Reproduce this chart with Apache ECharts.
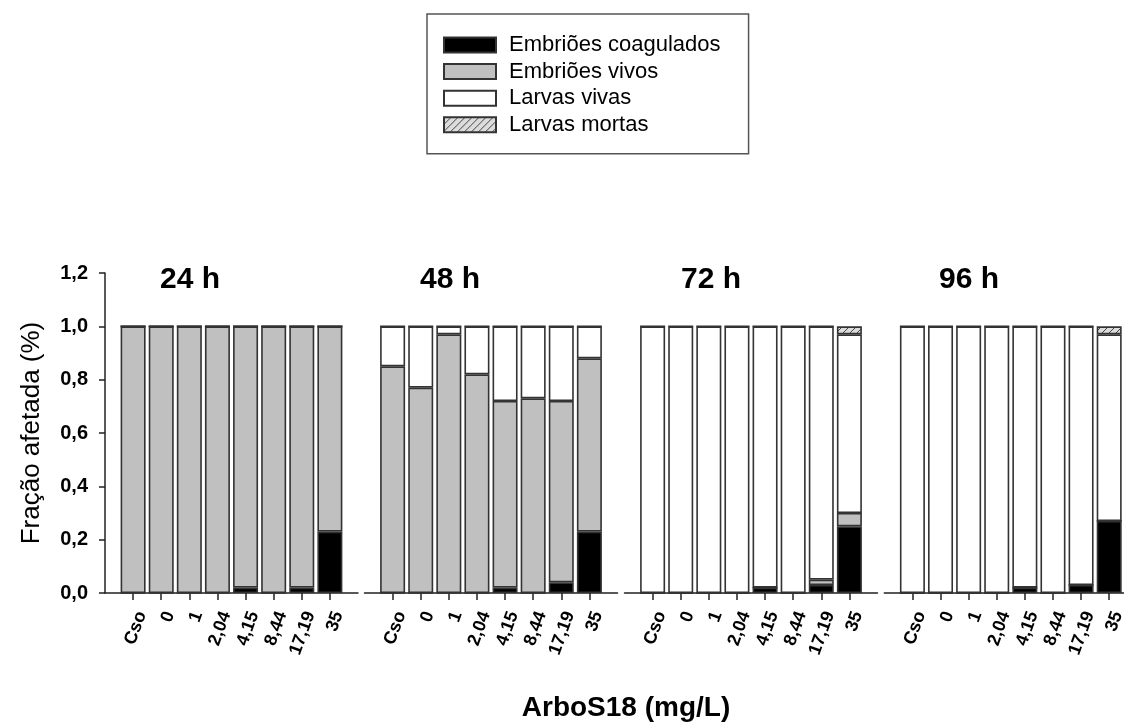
<!DOCTYPE html>
<html>
<head>
<meta charset="utf-8">
<script src="https://cdn.jsdelivr.net/npm/echarts@6/dist/echarts.min.js"></script>
<style>
html, body { margin: 0; background: #fff; }
#chart { width: 1124px; height: 724px; }
</style>
</head>
<body>
<div id="chart"></div>
<script>
// doses (mg/L)
var categories = ['Cso', '0', '1', '2,04', '4,15', '8,44', '17,19', '35'];
var panelTitles = ['24 h', '48 h', '72 h', '96 h'];
var seriesNames = ['Embriões coagulados', 'Embriões vivos', 'Larvas vivas', 'Larvas mortas'];

// 24 h
var coag24   = [0, 0, 0, 0, 0.02, 0, 0.02, 0.23];
var vivos24  = [1, 1, 1, 1, 0.98, 1, 0.98, 0.77];
var lvivas24 = [0, 0, 0, 0, 0, 0, 0, 0];
var lmort24  = [0, 0, 0, 0, 0, 0, 0, 0];
// 48 h
var coag48   = [0, 0, 0, 0, 0.02, 0, 0.04, 0.23];
var vivos48  = [0.85, 0.77, 0.97, 0.82, 0.70, 0.73, 0.68, 0.65];
var lvivas48 = [0.15, 0.23, 0.03, 0.18, 0.28, 0.27, 0.28, 0.12];
var lmort48  = [0, 0, 0, 0, 0, 0, 0, 0];
// 72 h
var coag72   = [0, 0, 0, 0, 0.02, 0, 0.03, 0.25];
var vivos72  = [0, 0, 0, 0, 0, 0, 0.02, 0.05];
var lvivas72 = [1, 1, 1, 1, 0.98, 1, 0.95, 0.67];
var lmort72  = [0, 0, 0, 0, 0, 0, 0, 0.03];
// 96 h
var coag96   = [0, 0, 0, 0, 0.02, 0, 0.03, 0.27];
var vivos96  = [0, 0, 0, 0, 0, 0, 0, 0];
var lvivas96 = [1, 1, 1, 1, 0.98, 1, 0.97, 0.70];
var lmort96  = [0, 0, 0, 0, 0, 0, 0, 0.03];

var panels = [
    [coag24, vivos24, lvivas24, lmort24],
    [coag48, vivos48, lvivas48, lmort48],
    [coag72, vivos72, lvivas72, lmort72],
    [coag96, vivos96, lvivas96, lmort96]
];

// hatch pattern for "Larvas mortas"
var hatch = document.createElement('canvas');
hatch.width = 7; hatch.height = 7;
var hc = hatch.getContext('2d');
hc.fillStyle = '#dcdcdc';
hc.fillRect(0, 0, 7, 7);
hc.strokeStyle = '#444';
hc.lineWidth = 1;
hc.beginPath();
hc.moveTo(-1, 8); hc.lineTo(8, -1);
hc.moveTo(-1, 1); hc.lineTo(1, -1);
hc.moveTo(6, 8); hc.lineTo(8, 6);
hc.stroke();

var fills = ['#000000', '#c0c0c0', '#ffffff', { image: hatch, repeat: 'repeat' }];

// padding categories so the axis runs half a bar past each end
var cats = [''].concat(categories).concat([' ']);
function pad(arr) { return ['-'].concat(arr).concat(['-']); }
function realCat(i, v) { return v !== '' && v !== ' '; }

var lefts = [105, 364.5, 624.5, 884.3];
var titleX = [190, 450, 711, 969];

var grids = [], xAxes = [], yAxes = [], series = [], graphics = [];
for (var p = 0; p < 4; p++) {
    grids.push({ left: lefts[p], top: 273, width: 253, height: 320, outerBoundsMode: 'none' });
    xAxes.push({
        type: 'category', gridIndex: p, data: cats, boundaryGap: false,
        axisLine: { lineStyle: { color: '#222', width: 1.5 } },
        axisTick: { length: 7, lineStyle: { color: '#222', width: 1.5 }, interval: realCat },
        axisLabel: { rotate: 70, margin: 16, verticalAlign: 'top', fontSize: 18, fontWeight: 'bold',
            fontFamily: 'Arial', color: '#000', interval: realCat }
    });
    yAxes.push({
        type: 'value', gridIndex: p, min: 0, max: 1.2, interval: 0.2,
        show: p === 0,
        name: p === 0 ? 'Fração afetada (%)' : '',
        nameLocation: 'middle', nameGap: 60,
        nameTextStyle: { fontSize: 26, fontFamily: 'Arial', color: '#000' },
        splitLine: { show: false },
        axisLine: { show: true, lineStyle: { color: '#222', width: 1.5 } },
        axisTick: { show: true, length: 6, lineStyle: { color: '#222', width: 1.5 } },
        axisLabel: { margin: 17, fontSize: 20, fontWeight: 'bold', fontFamily: 'Arial', color: '#000',
            formatter: function (v) { return v.toFixed(1).replace('.', ','); } }
    });
    for (var s = 0; s < 4; s++) {
        series.push({
            name: seriesNames[s], type: 'bar', xAxisIndex: p, yAxisIndex: p,
            stack: 'p' + p, barWidth: 25, data: pad(panels[p][s]),
            itemStyle: { color: fills[s], borderColor: '#333', borderWidth: 1.6 },
            emphasis: { disabled: true }
        });
    }
    graphics.push({
        type: 'text', x: titleX[p], y: 295,
        style: { text: panelTitles[p], textAlign: 'center', textVerticalAlign: 'bottom',
            font: 'bold 30px Arial', fill: '#000' }
    });
}
graphics.push({
    type: 'text', x: 626, y: 722,
    style: { text: 'ArboS18 (mg/L)', textAlign: 'center', textVerticalAlign: 'bottom',
        font: 'bold 28px Arial', fill: '#000' }
});

var myChart = echarts.init(document.getElementById('chart'));
myChart.setOption({
    animation: false,
    legend: {
        data: seriesNames, orient: 'vertical', left: 427, top: 14,
        padding: [20, 28, 18, 16], itemWidth: 52, itemHeight: 15, itemGap: 4.6,
        borderColor: '#555', borderWidth: 1.5, icon: 'rect',
        selectedMode: false,
        textStyle: { fontSize: 22, fontFamily: 'Arial', color: '#000', padding: [0, 0, 0, 8] }
    },
    grid: grids,
    xAxis: xAxes,
    yAxis: yAxes,
    series: series,
    graphic: graphics
});
</script>
</body>
</html>
